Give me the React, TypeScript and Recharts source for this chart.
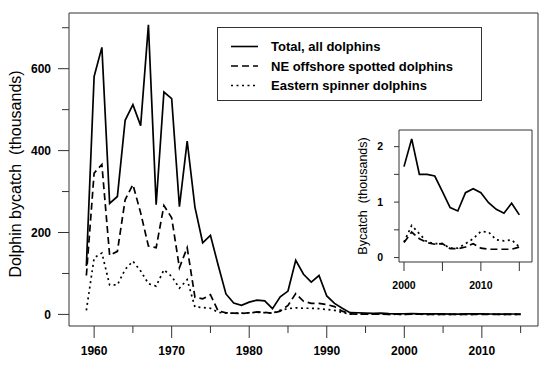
import React from 'react';
import { LineChart, Line, XAxis, YAxis, ReferenceArea, Legend } from 'recharts';

const YEARS = [
  1959, 1960, 1961, 1962, 1963, 1964, 1965, 1966, 1967, 1968, 1969, 1970, 1971, 1972, 1973, 1974, 1975, 1976, 1977,
  1978, 1979, 1980, 1981, 1982, 1983, 1984, 1985, 1986, 1987, 1988, 1989, 1990, 1991, 1992, 1993, 1994, 1995, 1996,
  1997, 1998, 1999, 2000, 2001, 2002, 2003, 2004, 2005, 2006, 2007, 2008, 2009, 2010, 2011, 2012, 2013, 2014, 2015,
];

// thousands of animals
const TOTAL = [
  118, 581, 652, 271, 288, 474, 512, 461, 707, 268, 543, 527, 263, 423, 262, 175, 193, 120, 50, 28, 22, 30, 35, 33, 14,
  43, 57, 132, 98, 79, 95, 45, 27, 15, 4.2, 4.1, 3.3, 2.5, 3.0, 1.9, 1.3, 1.64, 2.14, 1.5, 1.5, 1.47, 1.19, 0.9, 0.84,
  1.17, 1.24, 1.17, 0.99, 0.87, 0.8, 0.98, 0.77,
];
const SPOTTED = [
  95, 345, 366, 144, 154, 280, 317, 248, 167, 163, 266, 236, 114, 163, 42, 38, 48, 8, 4, 3, 2, 4, 6, 5, 3, 8, 22, 51, 32,
  27, 27, 24, 19, 8, 1.1, 0.9, 0.7, 0.5, 0.6, 0.3, 0.36, 0.27, 0.46, 0.34, 0.27, 0.24, 0.25, 0.16, 0.16, 0.19, 0.25,
  0.17, 0.15, 0.15, 0.15, 0.15, 0.19,
];
const SPINNER = [
  10, 138, 150, 72, 72, 110, 130, 106, 75, 69, 109, 93, 64, 85, 18, 17, 15, 5, 3, 3, 3, 4, 5, 4, 3, 10, 14, 16, 15, 15,
  14, 12, 10, 5, 0.7, 0.65, 0.7, 0.5, 0.7, 0.26, 0.34, 0.28, 0.58, 0.43, 0.28, 0.25, 0.25, 0.17, 0.17, 0.25, 0.34, 0.47,
  0.46, 0.32, 0.3, 0.32, 0.19,
];

const X_TICKS = [1960, 1965, 1970, 1975, 1980, 1985, 1990, 1995, 2000, 2005, 2010, 2015];
const X_LABELS = [1960, 1970, 1980, 1990, 2000, 2010];
const Y_TICKS = [0, 100, 200, 300, 400, 500, 600, 700];
const Y_LABELS = [0, 200, 400, 600];

const INSET_START = 2000;
const INSET_X_TICKS = [2000, 2005, 2010, 2015];
const INSET_X_LABELS = [2000, 2010];
const INSET_Y_TICKS = [0, 0.5, 1, 1.5, 2];
const INSET_Y_LABELS = [0, 1, 2];

const SERIES = [
  { key: 'total', name: 'Total, all dolphins', dash: undefined },
  { key: 'spotted', name: 'NE offshore spotted dolphins', dash: '7 4' },
  { key: 'spinner', name: 'Eastern spinner dolphins', dash: '2 3.5' },
];

const data = YEARS.map((year, i) => ({ year, total: TOTAL[i], spotted: SPOTTED[i], spinner: SPINNER[i] }));
const insetData = data.filter((d) => d.year >= INSET_START);

const X_DOMAIN = [1956.76, 2017.24];
const Y_DOMAIN = [-28.3, 736];
const INSET_X_DOMAIN = [1999.35, 2016.65];
const INSET_Y_DOMAIN = [-0.08, 2.3];

const FONT = '"Liberation Sans", Arial, sans-serif';

const makeXTick = (labels: number[], major: number, minor: number, fontSize: number, dy: number) => (props: any) => {
  const { x, y, payload } = props;
  const isMajor = labels.includes(payload.value);
  return (
    <g>
      <line x1={x} x2={x} y1={y} y2={y + (isMajor ? major : minor)} stroke="#333" />
      {isMajor && (
        <text x={x} y={y + dy} textAnchor="middle" fontSize={fontSize} fontWeight="bold" fontFamily={FONT} fill="#000">
          {payload.value}
        </text>
      )}
    </g>
  );
};

const makeYTick = (labels: number[], major: number, minor: number, fontSize: number, dx: number) => (props: any) => {
  const { x, y, payload } = props;
  const isMajor = labels.includes(payload.value);
  return (
    <g>
      <line x1={x} x2={x - (isMajor ? major : minor)} y1={y} y2={y} stroke="#333" />
      {isMajor && (
        <text x={x - dx} y={y + fontSize * 0.36} textAnchor="end" fontSize={fontSize} fontWeight="bold" fontFamily={FONT} fill="#000">
          {payload.value}
        </text>
      )}
    </g>
  );
};

const LegendBox = () => (
  <svg width={265} height={74} style={{ display: 'block' }}>
    <rect x={0.5} y={0.5} width={264} height={73} fill="#fff" stroke="#333" />
    {SERIES.map((s, i) => (
      <g key={s.key}>
        <line x1={14} x2={41} y1={19.5 + i * 19.5} y2={19.5 + i * 19.5} stroke="#000" strokeWidth={1.6} strokeDasharray={s.dash} />
        <text x={54} y={19.5 + i * 19.5 + 4.7} fontSize={13} fontWeight="bold" fontFamily={FONT} fill="#000">
          {s.name}
        </text>
      </g>
    ))}
  </svg>
);

export default function App() {
  return (
    <div style={{ position: 'absolute', left: 0, top: 0, width: 551, height: 369, background: '#fff' }}>
      <LineChart width={551} height={369} data={data} margin={{ top: 13, right: 13, bottom: 0, left: 19 }}>
        <XAxis
          type="number"
          dataKey="year"
          domain={X_DOMAIN}
          ticks={X_TICKS}
          interval={0}
          tickSize={0}
          tickMargin={0}
          axisLine={false}
          height={43}
          allowDataOverflow
          tick={makeXTick(X_LABELS, 12, 7, 12, 29)}
        />
        <YAxis
          type="number"
          domain={Y_DOMAIN}
          ticks={Y_TICKS}
          interval={0}
          tickSize={0}
          tickMargin={0}
          axisLine={false}
          width={50}
          allowDataOverflow
          tick={makeYTick(Y_LABELS, 11, 7, 12, 18)}
          label={{
            content: () => (
              <text x={21} y={174} transform="rotate(-90 21 174)" textAnchor="middle" fontSize={16} fontFamily={FONT} fill="#000">
                {'Dolphin bycatch \u00a0(thousands)'}
              </text>
            ),
          }}
        />
        <ReferenceArea x1={X_DOMAIN[0]} x2={X_DOMAIN[1]} y1={Y_DOMAIN[0]} y2={Y_DOMAIN[1]} fill="none" stroke="#333" strokeWidth={1} fillOpacity={0} />
        {SERIES.map((s) => (
          <Line
            key={s.key}
            type="linear"
            dataKey={s.key}
            name={s.name}
            stroke="#000"
            strokeWidth={1.7}
            strokeDasharray={s.dash}
            dot={false}
            isAnimationActive={false}
          />
        ))}
        <Legend
          layout="vertical"
          align="center"
          verticalAlign="middle"
          wrapperStyle={{ left: 217, top: 27, width: 265, height: 74 }}
          content={() => <LegendBox />}
        />
      </LineChart>

      <div style={{ position: 'absolute', left: 340, top: 120 }}>
        <LineChart width={211} height={180} data={insetData} margin={{ top: 10, right: 19, bottom: 0, left: 19 }}>
          <XAxis
            type="number"
            dataKey="year"
            domain={INSET_X_DOMAIN}
            ticks={INSET_X_TICKS}
            interval={0}
            tickSize={0}
            tickMargin={0}
            axisLine={false}
            height={38}
            allowDataOverflow
            tick={makeXTick(INSET_X_LABELS, 9, 9, 10.5, 27)}
          />
          <YAxis
            type="number"
            domain={INSET_Y_DOMAIN}
            ticks={INSET_Y_TICKS}
            interval={0}
            tickSize={0}
            tickMargin={0}
            axisLine={false}
            width={40}
            allowDataOverflow
            tick={makeYTick(INSET_Y_LABELS, 5, 5, 10.5, 16)}
            label={{
              content: (p: any) => {
                const cy = p.viewBox.y + p.viewBox.height / 2;
                return (
                  <text x={27} y={cy} transform={`rotate(-90 27 ${cy})`} textAnchor="middle" fontSize={12.5} fontFamily={FONT} fill="#000">
                    {'Bycatch \u00a0(thousands)'}
                  </text>
                );
              },
            }}
          />
          <ReferenceArea
            x1={INSET_X_DOMAIN[0]}
            x2={INSET_X_DOMAIN[1]}
            y1={INSET_Y_DOMAIN[0]}
            y2={INSET_Y_DOMAIN[1]}
            fill="none"
            stroke="#333"
            strokeWidth={1}
            fillOpacity={0}
          />
          {SERIES.map((s) => (
            <Line
              key={s.key}
              type="linear"
              dataKey={s.key}
              stroke="#000"
              strokeWidth={1.7}
              strokeDasharray={s.dash}
              dot={false}
              isAnimationActive={false}
            />
          ))}
        </LineChart>
      </div>
    </div>
  );
}
